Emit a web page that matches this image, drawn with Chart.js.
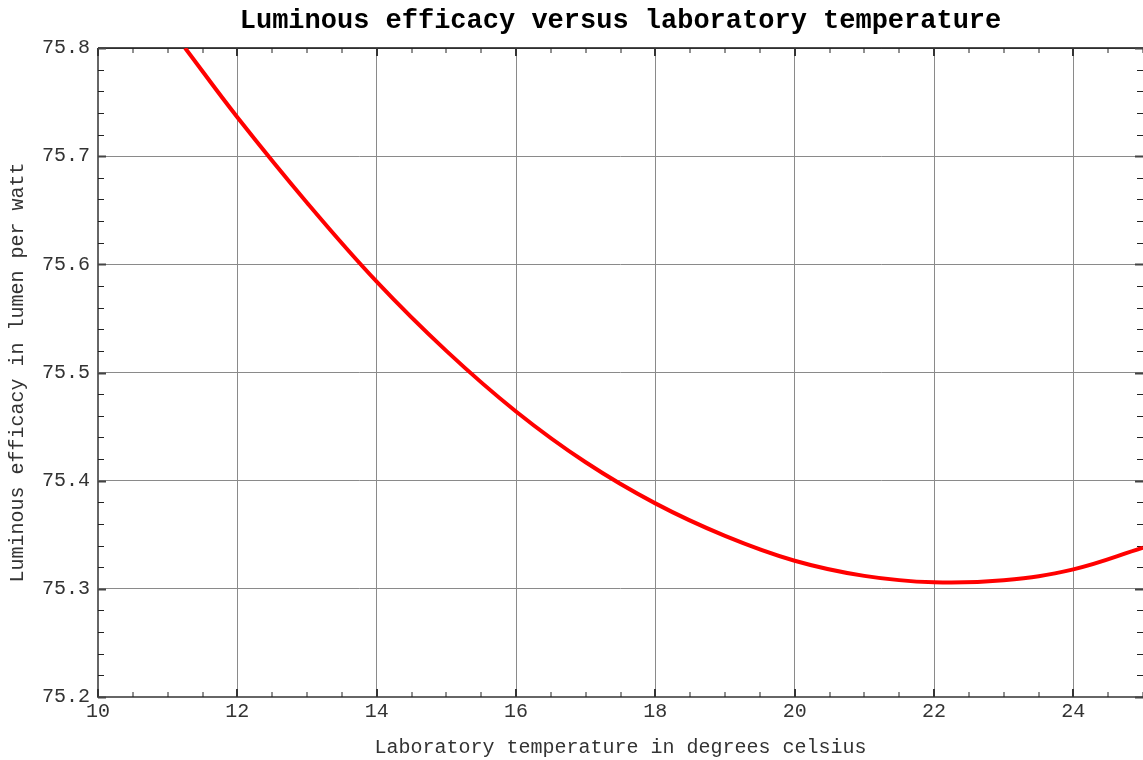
<!DOCTYPE html>
<html>
<head>
<meta charset="utf-8">
<title>Luminous efficacy versus laboratory temperature</title>
<script src="https://cdn.jsdelivr.net/npm/chart.js@4.4.1/dist/chart.umd.min.js"></script>
<style>
  html, body { margin: 0; padding: 0; background: #fff; }
</style>
</head>
<body>
<canvas id="efficacyChart" width="1143" height="760"></canvas>
<script>
// Values
const temperatures = [11.25, 12, 13, 14, 15, 16, 17, 18, 19, 20, 21, 22, 23, 24, 25];
const efficacy = [
  75.8, 75.736, 75.657, 75.584, 75.52, 75.464, 75.417, 75.379,
  75.349, 75.326, 75.312, 75.306, 75.308, 75.318, 75.338,
];
const xMajorTicks = [10, 12, 14, 16, 18, 20, 22, 24];
const yMajorTicks = [75.2, 75.3, 75.4, 75.5, 75.6, 75.7, 75.8];
const xMinorStep = 0.5;
const yMinorStep = 0.02;

const FONT = "'Liberation Mono', 'Courier New', monospace";

document.addEventListener('DOMContentLoaded', function () {
  function isMajor(list, v) {
    return list.some((m) => Math.abs(m - v) < 1e-6);
  }

  // Frame + inward tick marks on all four sides (like the original plot)
  const frameTicks = {
    id: 'frameTicks',
    beforeDatasetsDraw(chart) {
      const { ctx, chartArea: a, scales } = chart;
      const xs = scales.x;
      const ys = scales.y;
      ctx.save();

      // top border
      ctx.strokeStyle = '#111';
      ctx.lineWidth = 1.5;
      ctx.beginPath();
      ctx.moveTo(a.left, a.top);
      ctx.lineTo(a.right, a.top);
      ctx.stroke();

      // left + bottom borders
      ctx.strokeStyle = '#666';
      ctx.lineWidth = 2;
      ctx.beginPath();
      ctx.moveTo(a.left, a.top);
      ctx.lineTo(a.left, a.bottom);
      ctx.lineTo(a.right, a.bottom);
      ctx.stroke();

      // x ticks
      const nx = Math.round((xs.max - xs.min) / xMinorStep);
      for (let i = 0; i <= nx; i++) {
        const v = xs.min + i * xMinorStep;
        const px = Math.round(xs.getPixelForValue(v));
        const major = isMajor(xMajorTicks, v);
        ctx.strokeStyle = major ? '#333' : '#222';
        ctx.lineWidth = major ? 2 : 1;
        const len = major ? 8 : 5;
        ctx.beginPath();
        ctx.moveTo(px, a.bottom);
        ctx.lineTo(px, a.bottom - len);
        ctx.moveTo(px, a.top);
        ctx.lineTo(px, a.top + len);
        ctx.stroke();
      }

      // y ticks
      const ny = Math.round((ys.max - ys.min) / yMinorStep);
      for (let j = 0; j <= ny; j++) {
        const v = ys.min + j * yMinorStep;
        const py = Math.round(ys.getPixelForValue(v)) + 0.5;
        const major = isMajor(yMajorTicks, v);
        ctx.strokeStyle = major ? '#444' : '#222';
        ctx.lineWidth = major ? 2 : 1;
        const len = major ? 8 : 6;
        ctx.beginPath();
        ctx.moveTo(a.left, py);
        ctx.lineTo(a.left + len, py);
        ctx.moveTo(a.right, py);
        ctx.lineTo(a.right - len, py);
        ctx.stroke();
      }
      ctx.restore();
    },
  };

  const ctx = document.getElementById('efficacyChart').getContext('2d');
  new Chart(ctx, {
    type: 'line',
    data: {
      datasets: [
        {
          label: 'Luminous efficacy',
          data: temperatures.map((t, i) => ({ x: t, y: efficacy[i] })),
          borderColor: '#ff0000',
          borderWidth: 4,
          pointRadius: 0,
          tension: 0.4,
          fill: false,
        },
      ],
    },
    options: {
      responsive: false,
      animation: false,
      layout: { padding: 0 },
      plugins: {
        legend: { display: false },
        tooltip: { enabled: false },
        title: {
          display: true,
          fullSize: false,
          text: 'Luminous efficacy versus laboratory temperature',
          color: '#000',
          font: { family: FONT, size: 27, weight: 'bold', lineHeight: 1.2 },
          padding: { top: 5, bottom: 10.6 },
        },
      },
      scales: {
        x: {
          type: 'linear',
          min: 10,
          max: 25,
          afterBuildTicks: (axis) => {
            axis.ticks = xMajorTicks.map((v) => ({ value: v }));
          },
          afterFit: (axis) => {
            axis.height = 63;
          },
          ticks: {
            color: '#333',
            font: { family: FONT, size: 20 },
            padding: 3,
            maxRotation: 0,
            autoSkip: false,
            callback: (v) => String(v),
          },
          grid: { color: '#8a8a8a', lineWidth: 1, drawTicks: false },
          border: { display: false },
          title: {
            display: true,
            text: 'Laboratory temperature in degrees celsius',
            color: '#333',
            font: { family: FONT, size: 20, lineHeight: 1.2 },
            padding: { top: 0, bottom: 0 },
          },
        },
        y: {
          type: 'linear',
          min: 75.2,
          max: 75.8,
          afterBuildTicks: (axis) => {
            axis.ticks = yMajorTicks.map((v) => ({ value: v }));
          },
          afterFit: (axis) => {
            axis.width = 98;
          },
          ticks: {
            color: '#333',
            font: { family: FONT, size: 20 },
            padding: 8,
            autoSkip: false,
            callback: (v) => Number(v).toFixed(1),
          },
          grid: { color: '#8a8a8a', lineWidth: 1, drawTicks: false },
          border: { display: false },
          title: {
            display: true,
            text: 'Luminous efficacy in lumen per watt',
            color: '#333',
            font: { family: FONT, size: 20, lineHeight: 1.2 },
            padding: { top: 6, bottom: 0 },
          },
        },
      },
    },
    plugins: [frameTicks],
  });
});
</script>
</body>
</html>
